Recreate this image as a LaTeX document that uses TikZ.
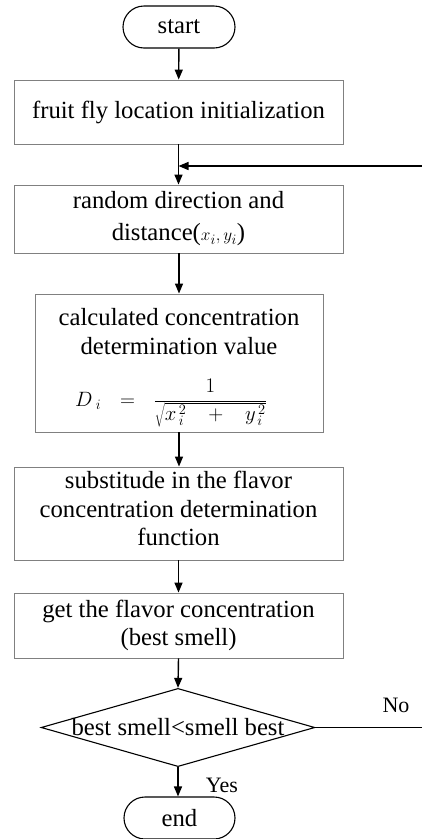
\documentclass[tikz,border=0pt]{standalone}
\usepackage{fontspec}
\setmainfont{Liberation Serif}
\usetikzlibrary{shapes.geometric,shapes.misc,arrows.meta}
\definecolor{boxgray}{RGB}{128,128,128}
\begin{document}
\begin{tikzpicture}[x=1pt,y=-1pt,
  base/.style={font=\fontsize{24.7}{28.5}\selectfont, align=center, inner sep=0pt},
  proc/.style={base, rectangle, draw=boxgray, line width=0.9pt},
  term/.style={base, rounded rectangle, draw=black, line width=1.1pt, minimum width=112pt, minimum height=42pt},
  decision/.style={base, diamond, draw=black, line width=1.1pt, aspect=3.5},
  arr/.style={line width=1.4pt, -{Triangle[length=10pt,width=8pt]}},
  ln/.style={line width=1.4pt},
  lbl/.style={font=\fontsize{22}{26}\selectfont, inner sep=0pt}
]
\useasboundingbox (0,0) rectangle (422,839);
\node[term] (start) at (179,27) {start};
\node[proc, minimum width=329pt, minimum height=64pt] (b1) at (178.5,112) {fruit fly location initialization};
\node[proc, minimum width=329pt, minimum height=68pt, font=\fontsize{24.7}{32}\selectfont] (b2) at (178.5,219) {random direction and\\distance({\fontsize{19}{22}\selectfont$x_{i}, y_{i}$})};
\node[proc, minimum width=288pt, minimum height=138pt] (b3) at (179,363) {\raisebox{-3.5pt}[\height][\depth]{\begin{tabular}{@{}c@{}}calculated concentration\\determination value\\[16pt]
 {\fontsize{20}{24}\selectfont$\displaystyle D_{\;i}\hspace{13pt}=\hspace{13pt}\frac{1}{\sqrt{x_{\,i}^{\,2}\;\;\;+\;\;\;y_{\,i}^{\,2}}}$}\hspace*{16pt}\end{tabular}}};
\node[proc, minimum width=329pt, minimum height=93pt] (b4) at (178.5,513.5) {\raisebox{2pt}[\height][\depth]{\begin{tabular}{@{}c@{}}substitude in the flavor\\concentration determination\\function\end{tabular}}};
\node[proc, minimum width=329pt, minimum height=65pt] (b5) at (178.5,625.5) {get the flavor concentration\\(best smell)};
\node[decision] (dec) at (178,727.5) {best smell<smell best};
\node[term, minimum width=111pt] (end) at (179.5,818) {end};
\coordinate (fb) at (422,166);
\coordinate (noend) at (422,727.5);
\draw[arr] (start) -- (b1);
\draw[arr] (b1) -- (b2);
\draw[arr] (fb) -- (b1.south |- fb);
\draw[arr] (b2.south -| b3.north) -- (b3);
\draw[arr] (b3) -- (b4.north -| b3.south);
\draw[arr] (b4) -- (b5);
\draw[arr] (b5.south) -- (dec.north);
\draw[arr] (dec.south) -- (end.north -| dec.south);
\draw[ln] (dec.east) -- (noend);
\node[lbl] (no) at (396,705) {No};
\node[lbl] (yes) at (222,785) {Yes};
\end{tikzpicture}
\end{document}
